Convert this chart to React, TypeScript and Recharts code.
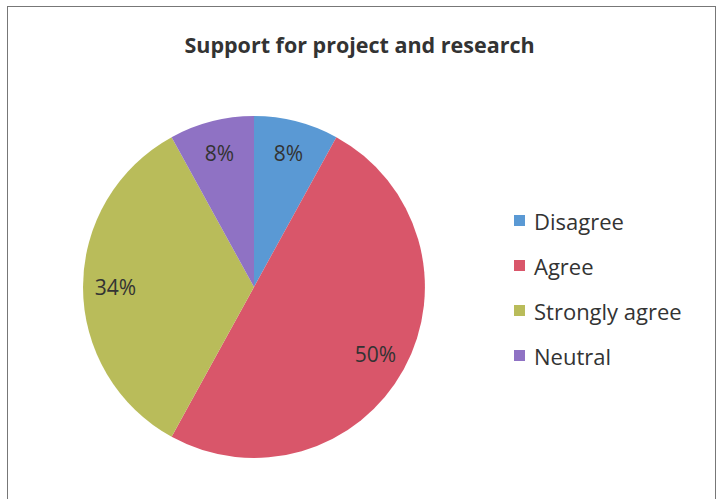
import React from "react";
import { Cell, Legend, Pie, PieChart } from "recharts";

const categories = ["Disagree", "Agree", "Strongly agree", "Neutral"];
const shares = [8, 50, 34, 8];
const colors = ["#5a99d4", "#d9566a", "#b9bc5a", "#8f72c4"];

const data = categories.map((name, i) => ({ name, value: shares[i] }));

const FONT = "'Open Sans', Lato, sans-serif";
const RAD = Math.PI / 180;

const renderLabel = (props: any) => {
  const { cx, cy, midAngle, outerRadius, value } = props;
  const r = outerRadius * 0.81;
  const x = cx + r * Math.cos(-midAngle * RAD);
  const y = cy + r * Math.sin(-midAngle * RAD);
  return (
    <text
      x={x}
      y={y}
      textAnchor="middle"
      dominantBaseline="central"
      fill="#333"
      fontSize={21}
      fontFamily={FONT}
    >
      {`${value}%`}
    </text>
  );
};

const renderLegend = () => (
  <div style={{ fontFamily: FONT }}>
    {categories.map((name, i) => (
      <div
        key={name}
        style={{
          display: "flex",
          alignItems: "center",
          height: 45,
          fontSize: 22,
          color: "#333",
        }}
      >
        <span
          style={{
            width: 11,
            height: 11,
            background: colors[i],
            marginRight: 9,
            display: "inline-block",
          }}
        />
        {name}
      </div>
    ))}
  </div>
);

export default function App() {
  return (
    <div
      style={{
        position: "absolute",
        left: 0,
        top: 0,
        width: 719,
        height: 499,
        background: "#fff",
        overflow: "hidden",
      }}
    >
      <div
        style={{
          position: "absolute",
          left: 7,
          top: 6,
          width: 709,
          height: 520,
          border: "1.5px solid #777",
          boxSizing: "border-box",
        }}
      />
      <div
        style={{
          position: "absolute",
          left: 0,
          width: 719,
          top: 30,
          textAlign: "center",
          fontFamily: FONT,
          fontWeight: 700,
          fontSize: 21.5,
          color: "#333",
        }}
      >
        Support for project and research
      </div>
      <div style={{ position: "absolute", left: 0, top: 0 }}>
        <PieChart
          width={719}
          height={499}
          margin={{ top: 0, right: 0, bottom: 0, left: 0 }}
        >
          <Pie
            data={data}
            dataKey="value"
            nameKey="name"
            cx={254}
            cy={287}
            outerRadius={171}
            startAngle={90}
            endAngle={-270}
            stroke="none"
            label={renderLabel}
            labelLine={false}
            isAnimationActive={false}
          >
            {data.map((d, i) => (
              <Cell key={d.name} fill={colors[i]} />
            ))}
          </Pie>
          <Legend
            layout="vertical"
            content={renderLegend}
            wrapperStyle={{ left: 514, top: 198, width: 200 }}
          />
        </PieChart>
      </div>
    </div>
  );
}
